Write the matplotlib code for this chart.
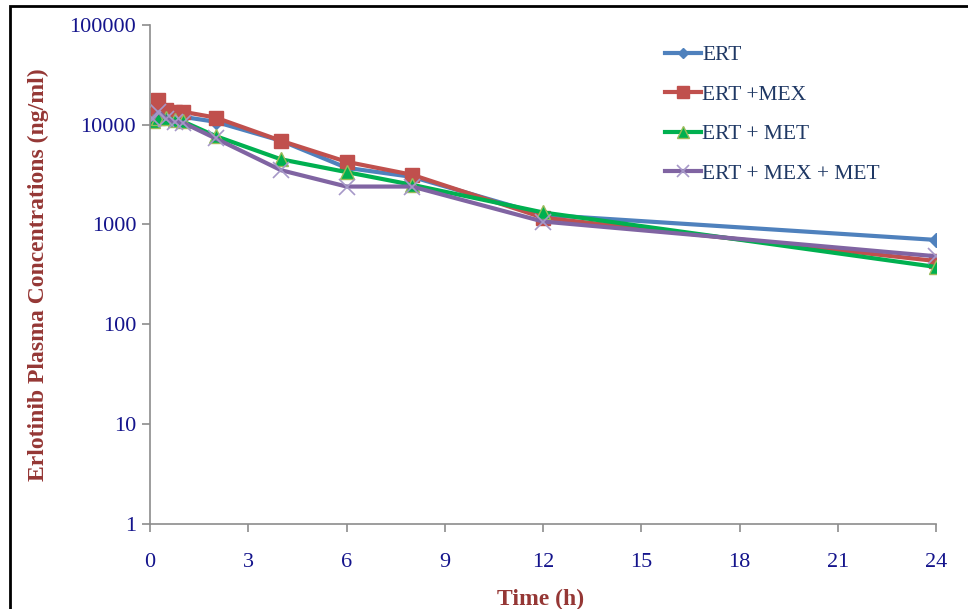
import matplotlib
matplotlib.use('Agg')
import matplotlib.pyplot as plt
from matplotlib.patches import Rectangle

# sampling times (h)
time_h = [0.083, 0.25, 0.5, 0.75, 1, 2, 4, 6, 8, 12, 24]

# erlotinib plasma concentrations (ng/ml)
ert = [12000, 14500, 12500, 12000, 12000, 10700, 6900, 3700, 3000, 1250, 700]
ert_mex = [12600, 17800, 14000, 13300, 13500, 11800, 6900, 4250, 3150, 1170, 430]
ert_met = [10800, 11800, 11700, 11200, 10800, 7700, 4500, 3350, 2500, 1320, 375]
ert_mex_met = [11500, 13500, 11500, 10700, 10500, 7300, 3500, 2400, 2400, 1070, 480]

y_ticks = [1, 10, 100, 1000, 10000, 100000]
x_ticks = list(range(0, 25, 3))

plt.rcParams['font.family'] = ['Liberation Serif', 'DejaVu Serif']

fig = plt.figure(figsize=(9.68, 6.09), dpi=100)
ax = fig.add_axes([0.155, 0.140, 0.812, 0.819])

ax.plot(time_h, ert, color='#4F81BD', lw=3, marker='D', ms=7, label='ERT')
ax.plot(time_h, ert_mex, color='#C0504D', lw=3, marker='s', ms=10, label='ERT +MEX')
ax.plot(time_h, ert_met, color='#00B050', lw=3, marker='^', ms=10,
        mfc='#00B050', mec='#9BBB59', label='ERT + MET')
ax.plot(time_h, ert_mex_met, color='#8064A2', lw=3, marker='x', ms=11,
        mec='#A698C8', mew=1.2, label='ERT + MEX + MET')

ax.set_yscale('log')
ax.set_ylim(1, 100000)
ax.set_xlim(0, 24)
ax.set_yticks(y_ticks)
ax.set_yticklabels([str(v) for v in y_ticks])
ax.minorticks_off()
ax.set_xticks(x_ticks)

for s in ['top', 'right']:
    ax.spines[s].set_visible(False)
for s in ['left', 'bottom']:
    ax.spines[s].set_color('#8C8C8C')
    ax.spines[s].set_linewidth(1.2)

ax.tick_params(axis='both', colors='#8C8C8C', length=6, width=1.2,
               labelsize=16, labelcolor='#14148C')
ax.tick_params(axis='x', pad=15)
ax.tick_params(axis='y', pad=4)

ax.set_ylabel('Erlotinib Plasma Concentrations (ng/ml)', fontsize=17,
              fontweight='bold', color='#953735')
ax.yaxis.set_label_coords(-0.128, 0.5)
ax.set_xlabel('Time (h)', fontsize=17, fontweight='bold', color='#953735')
ax.xaxis.set_label_coords(0.497, -0.13)

leg = ax.legend(loc='upper left', bbox_to_anchor=(0.63, 0.998), frameon=False,
                fontsize=15.5, handlelength=1.7, handletextpad=0.05,
                labelspacing=0.9, markerscale=0.8)
for t in leg.get_texts():
    t.set_color('#1F3864')

# outer frame
fig.patches.append(Rectangle((10 / 968, -0.1), 1.2, 1.1 - 6 / 609,
                             transform=fig.transFigure, fill=False,
                             edgecolor='black', lw=2))

fig.savefig('out.png', dpi=100)
